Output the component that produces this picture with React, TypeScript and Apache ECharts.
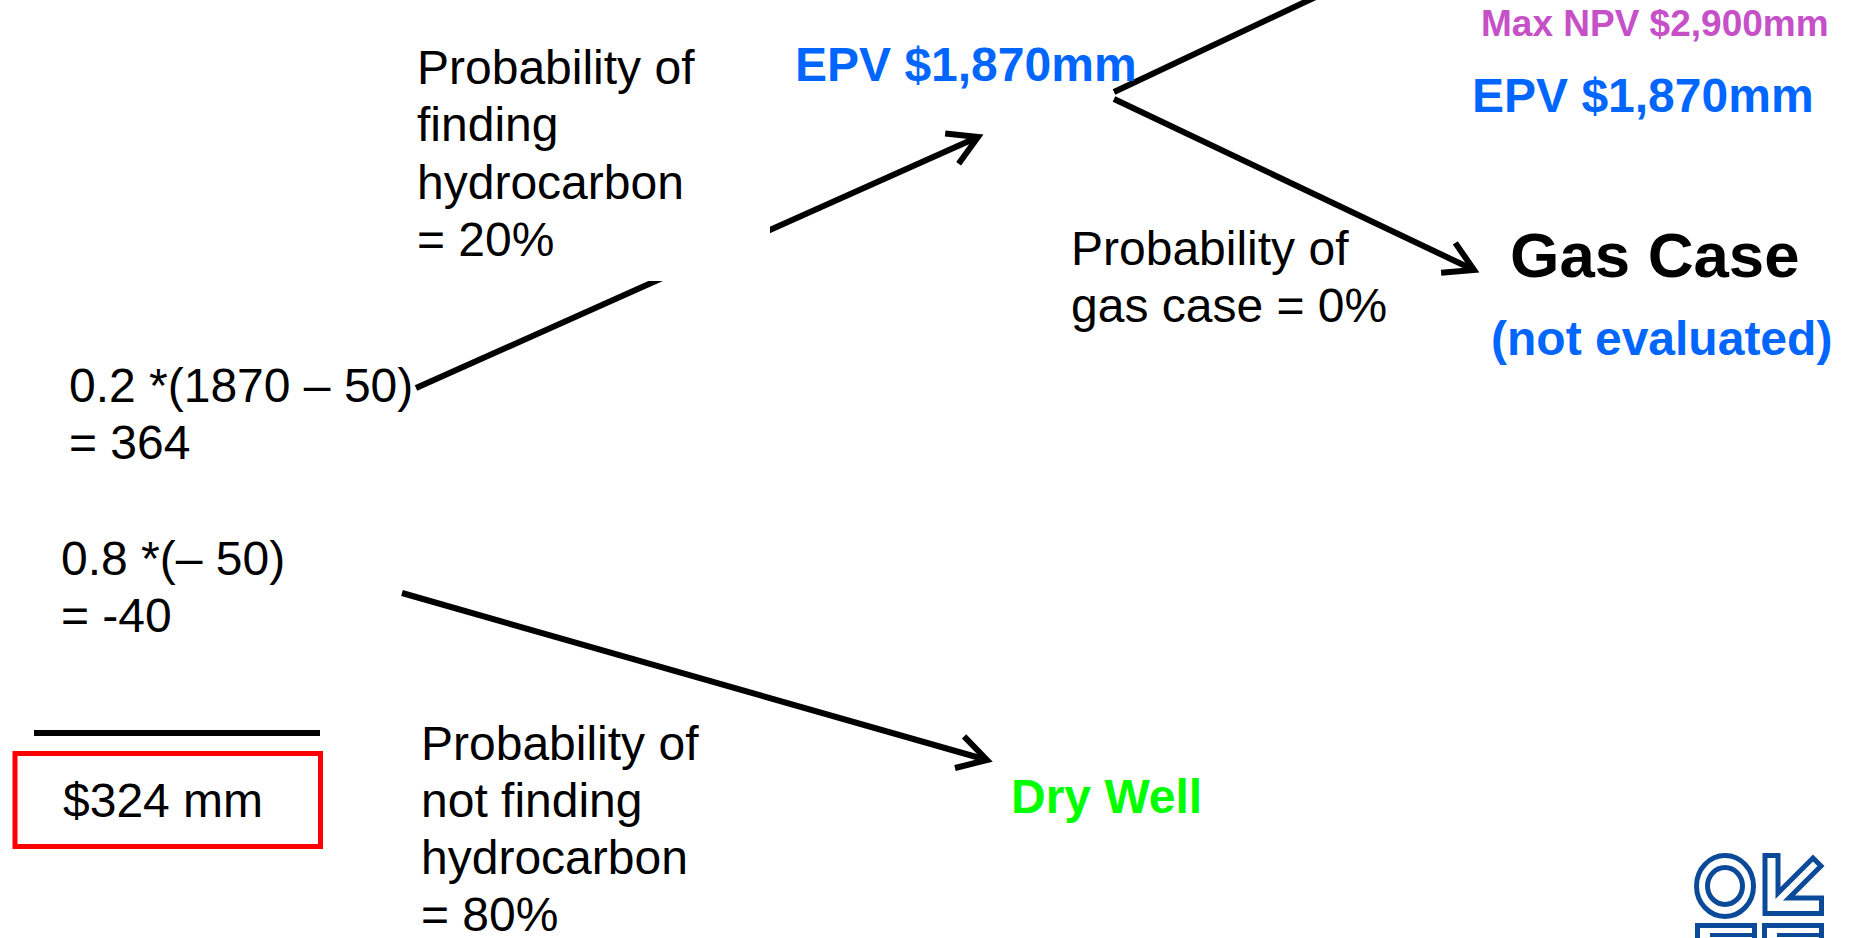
import React, { useEffect, useRef } from "react";
import * as echarts from "echarts";

// ---- data ----
const branchLabels = ["finding", "not finding", "gas case"];
const branchProbabilities = [20, 80, 0]; // %
const epvValues = [1870, 1870]; // $mm
const maxNpvValues = [2900]; // $mm
const wellCost = [50]; // $mm
const expectedTerms = [364, -40]; // $mm
const emvResult = [324]; // $mm
const outcomeLabels = ["Gas Case", "(not evaluated)", "Dry Well"];

const FONT = '"Liberation Sans", Arial, Helvetica, sans-serif';
const BLUE = "#0066FF";
const MAGENTA = "#C650C8";
const GREEN = "#00FF00";
const LOGO = "#0B4A98";

const fmt = (v: number) => v.toLocaleString("en-US");

function textLines(lines: string[], x: number, baseline: number, size: number, bold: boolean, color: string, step = 57.5) {
  return lines.map((t, i) => ({
    type: "text",
    x,
    y: baseline + i * step - 0.3465 * size,
    z: 10,
    style: {
      text: t,
      fill: color,
      font: `${bold ? "bold " : ""}${size}px ${FONT}`,
      textAlign: "left",
      textVerticalAlign: "middle",
      verticalAlign: "middle",
    },
  }));
}

function seg(x1: number, y1: number, x2: number, y2: number, w = 6) {
  return {
    type: "line",
    z: 2,
    shape: { x1, y1, x2, y2 },
    style: { stroke: "#000", lineWidth: w, lineCap: "butt" },
  };
}

function arrowHead(fx: number, fy: number, tx: number, ty: number, len = 33, ang = 30) {
  const d = Math.hypot(fx - tx, fy - ty);
  const ux = (fx - tx) / d;
  const uy = (fy - ty) / d;
  const a = (ang * Math.PI) / 180;
  const r = (s: number) => [
    tx + len * (ux * Math.cos(s * a) - uy * Math.sin(s * a)),
    ty + len * (ux * Math.sin(s * a) + uy * Math.cos(s * a)),
  ];
  return {
    type: "polyline",
    z: 2,
    shape: { points: [r(1), [tx, ty], r(-1)] },
    style: { stroke: "#000", lineWidth: 6, fill: null, lineJoin: "miter", lineCap: "butt" },
  };
}

export default function App() {
  const ref = useRef<HTMLDivElement>(null);

  useEffect(() => {
    if (!ref.current) return;
    const chart = echarts.init(ref.current, undefined, { renderer: "svg" });

    const pFind = branchProbabilities[0] / 100;
    const pDry = branchProbabilities[1] / 100;

    const elements: any[] = [
      // success branch
      seg(416, 388, 978, 137),
      arrowHead(416, 388, 978, 137),
      // white box clipping the success branch behind its label
      { type: "rect", z: 3, shape: { x: 560, y: 150, width: 210, height: 131 }, style: { fill: "#fff" } },
      // node branches
      seg(1114, 92, 1322, -6),
      seg(1114, 99, 1474, 270),
      arrowHead(1114, 99, 1474, 270),
      // dry branch
      seg(402, 593, 987, 760),
      arrowHead(402, 593, 987, 760),
      // sum line
      seg(34, 733, 320, 733, 6),
      // result box
      {
        type: "rect",
        z: 2,
        shape: { x: 15, y: 753.5, width: 305.5, height: 93 },
        style: { fill: null, stroke: "#FF0000", lineWidth: 5 },
      },
      ...textLines(["Probability of", branchLabels[0], "hydrocarbon", `= ${branchProbabilities[0]}%`], 417, 84, 48, false, "#000"),
      ...textLines(
        [`${pFind} *(${epvValues[0]} – ${wellCost[0]})`, `= ${expectedTerms[0]}`],
        69, 402, 48, false, "#000", 57
      ),
      ...textLines([`${pDry} *(– ${wellCost[0]})`, `= ${expectedTerms[1]}`], 61, 575, 48, false, "#000", 57),
      ...textLines([`$${emvResult[0]} mm`], 63, 817, 48, false, "#000"),
      ...textLines(["Probability of", branchLabels[1], "hydrocarbon", `= ${branchProbabilities[1]}%`], 421, 760, 48, false, "#000", 57.2),
      ...textLines(["Probability of", `${branchLabels[2]} = ${branchProbabilities[2]}%`], 1071, 265, 48, false, "#000", 57),
      ...textLines([`EPV $${fmt(epvValues[0])}mm`], 795, 81, 48, true, BLUE),
      ...textLines([`Max NPV $${fmt(maxNpvValues[0])}mm`], 1481, 36, 37, true, MAGENTA),
      ...textLines([`EPV $${fmt(epvValues[1])}mm`], 1472, 112, 48, true, BLUE),
      ...textLines([outcomeLabels[0]], 1510, 277, 63.5, true, "#000"),
      ...textLines([outcomeLabels[1]], 1491, 355, 48, true, BLUE),
      ...textLines([outcomeLabels[2]], 1011, 813, 48, true, GREEN),
      // logo
      { type: "ellipse", z: 5, shape: { cx: 1725, cy: 886, rx: 28.5, ry: 30.5 }, style: { fill: null, stroke: LOGO, lineWidth: 5 } },
      { type: "ellipse", z: 5, shape: { cx: 1725, cy: 886, rx: 17.5, ry: 18.5 }, style: { fill: null, stroke: LOGO, lineWidth: 5 } },
      {
        type: "polygon",
        z: 5,
        shape: {
          points: [
            [1765, 855.5], [1778, 855.5], [1778, 893], [1813, 858], [1821, 866],
            [1789, 898], [1821.5, 898], [1821.5, 913.5], [1765, 913.5],
          ],
        },
        style: { fill: null, stroke: LOGO, lineWidth: 5, lineJoin: "miter" },
      },
      { type: "rect", z: 5, shape: { x: 1697.5, y: 925.5, width: 57, height: 30 }, style: { fill: null, stroke: LOGO, lineWidth: 5 } },
      { type: "rect", z: 5, shape: { x: 1764.5, y: 925.5, width: 57, height: 30 }, style: { fill: null, stroke: LOGO, lineWidth: 5 } },
      { type: "line", z: 5, shape: { x1: 1710, y1: 935, x2: 1757, y2: 935 }, style: { stroke: LOGO, lineWidth: 4 } },
      { type: "line", z: 5, shape: { x1: 1777, y1: 935, x2: 1824, y2: 935 }, style: { stroke: LOGO, lineWidth: 4 } },
    ];

    chart.setOption({
      animation: false,
      backgroundColor: "#fff",
      graphic: { elements },
    });

    return () => chart.dispose();
  }, []);

  return (
    <div
      ref={ref}
      style={{ position: "fixed", left: 0, top: 0, width: 1856, height: 938, background: "#fff" }}
    />
  );
}
